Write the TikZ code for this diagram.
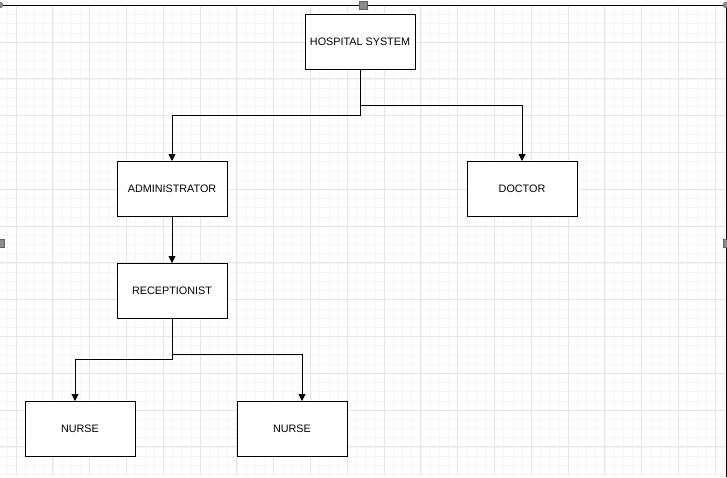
\documentclass[tikz,border=0pt]{standalone}
\usepackage{fontspec}
\setmainfont{Liberation Sans}
\usetikzlibrary{arrows.meta, positioning}

\definecolor{gridmajor}{HTML}{E6E6E6}
\definecolor{gridminor}{HTML}{F5F5F5}
\definecolor{handlegray}{HTML}{8C8C8C}

\begin{document}
\begin{tikzpicture}[
  x=1pt, y=-1pt,
  box/.style={draw, line width=1pt, fill=white, minimum width=110pt, minimum height=55pt,
    inner sep=0pt, outer sep=0pt, align=center, font=\fontsize{10.8}{13}\selectfont},
  arrow/.style={-{Triangle[length=7pt, width=7pt]}, line width=0.9pt},
  handle/.style={fill=handlegray, draw=handlegray!70!black, line width=0.4pt}
]

% canvas and grid
\fill[white] (0,0) rectangle (727,477);
\useasboundingbox (0,0) rectangle (727,477);
\foreach \gx in {0,...,78} {
  \draw[gridminor, line width=0.6pt] ({6.8+9.2*\gx},5) -- ({6.8+9.2*\gx},475);
}
\foreach \gy in {0,...,51} {
  \draw[gridminor, line width=0.6pt] (0,{5.2+9.2*\gy}) -- (726,{5.2+9.2*\gy});
}
\foreach \gx in {0,...,19} {
  \draw[gridmajor, line width=0.8pt] ({16+36.8*\gx},5) -- ({16+36.8*\gx},475);
}
\foreach \gy in {0,...,12} {
  \draw[gridmajor, line width=0.8pt] (0,{5.2+36.8*\gy}) -- (726,{5.2+36.8*\gy});
}

% selection frame
\draw[line width=1pt] (0,5) -- (726,5) -- (726,477);
\fill[handle] (0,5) circle (3pt);
\fill[handle] (726,5) circle (3pt);
\filldraw[handle] (359,1) rectangle (367,9);
\filldraw[handle] (-1,239) rectangle (4,247);
\filldraw[handle] (723,239) rectangle (728,247);

% boxes
\node[box] (hospital) at (360,41.5) {HOSPITAL SYSTEM};
\node[box, below=92pt of hospital, xshift=-188pt] (admin) {ADMINISTRATOR};
\node[box, right=240pt of admin] (doctor) {DOCTOR};
\node[box, below=47pt of admin] (receptionist) {RECEPTIONIST};
\node[box, below=83pt of receptionist, xshift=-92pt] (nurseleft) {NURSE};
\node[box, right=102pt of nurseleft] (nurseright) {NURSE};

% connectors
\draw[arrow] (hospital.south) -- ++(0,46) -| (admin.north);
\draw[arrow] (hospital.south) -- ++(0,36.5) -| (doctor.north);
\draw[arrow] (admin) -- (receptionist);
\draw[arrow] (receptionist.south) -- ++(0,41) -| ([xshift=-5pt]nurseleft.north);
\draw[arrow] (receptionist.south) -- ++(0,36.5) -| ([xshift=10pt]nurseright.north);

\end{tikzpicture}
\end{document}
